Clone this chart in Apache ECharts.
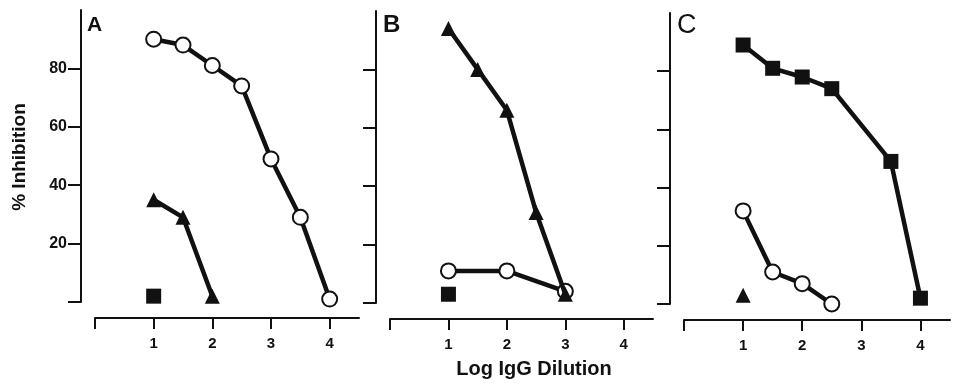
<!DOCTYPE html>
<html>
<head>
<meta charset="utf-8">
<script src="https://cdn.jsdelivr.net/npm/echarts@6/dist/echarts.min.js"></script>
<style>
  html, body { margin: 0; padding: 0; background: #fff; }
  #chart { width: 956px; height: 391px; }
</style>
</head>
<body>
<div id="chart"></div>
<script>
// panel A
var aCircleX = [1, 1.5, 2, 2.5, 3, 3.5, 4]
var aCircleY = [90, 88, 81, 74, 49, 29, 1]
var aTriX = [1, 1.5, 2]
var aTriY = [35, 29, 2]
var aSqX = [1]
var aSqY = [2]
// panel B
var bTriX = [1, 1.5, 2, 2.5, 3]
var bTriY = [94, 80, 66, 31, 3]
var bCircleX = [1, 2, 3]
var bCircleY = [11, 11, 4]
var bSqX = [1]
var bSqY = [3]
// panel C
var cSqX = [1, 1.5, 2, 2.5, 3.5, 4]
var cSqY = [89, 81, 78, 74, 49, 2]
var cCircleX = [1, 1.5, 2, 2.5]
var cCircleY = [32, 11, 7, 0]
var cTriX = [1]
var cTriY = [3]

var xTicks = [0, 1, 2, 3, 4]
var xLabels = [1, 2, 3, 4]
var yTicks = [0, 20, 40, 60, 80]
var yLabels = [20, 40, 60, 80]

var ink = '#111'
var font = '"Liberation Sans", Arial, sans-serif'

function pairs(xs, ys) {
  return xs.map(function (x, i) { return [x, ys[i]] })
}

function xAxisFor(idx) {
  return {
    type: 'value', gridIndex: idx, min: 0, max: 4.5, offset: 16,
    axisLine: { show: true, onZero: false, lineStyle: { color: ink, width: 2 } },
    axisTick: { show: true, customValues: xTicks, length: 11, lineStyle: { color: ink, width: 2 } },
    axisLabel: { customValues: xLabels, margin: 18, fontSize: 15, fontWeight: 'bold', color: ink, fontFamily: font },
    splitLine: { show: false }
  }
}

function yAxisFor(idx, labels) {
  return {
    type: 'value', gridIndex: idx, min: 0, max: 100, offset: 14,
    axisLine: { show: true, onZero: false, lineStyle: { color: ink, width: 2 } },
    axisTick: { show: true, customValues: yTicks, length: 13, lineStyle: { color: ink, width: 2 } },
    axisLabel: { show: labels, customValues: yLabels, margin: 14, fontSize: 16, fontWeight: 'bold', color: ink, fontFamily: font },
    splitLine: { show: false }
  }
}

function circleSeries(idx, xs, ys) {
  return {
    type: 'line', xAxisIndex: idx, yAxisIndex: idx, data: pairs(xs, ys),
    symbol: 'circle', symbolSize: 15, clip: false, z: 3,
    lineStyle: { color: ink, width: 4.5 },
    itemStyle: { color: '#fff', borderColor: ink, borderWidth: 2 }
  }
}

function filledSeries(idx, xs, ys, shape, size) {
  return {
    type: 'line', xAxisIndex: idx, yAxisIndex: idx, data: pairs(xs, ys),
    symbol: shape, symbolSize: size, clip: false, z: 4,
    lineStyle: { color: ink, width: 4.5 },
    itemStyle: { color: ink, borderColor: ink, borderWidth: 0 }
  }
}

var chart = echarts.init(document.getElementById('chart'))
chart.setOption({
  backgroundColor: '#fff',
  animation: false,
  grid: [
    { left: 95, top: 10, width: 264, height: 292 },
    { left: 390, top: 11, width: 263, height: 292 },
    { left: 684, top: 13, width: 266, height: 291 }
  ],
  xAxis: [xAxisFor(0), xAxisFor(1), xAxisFor(2)],
  yAxis: [yAxisFor(0, true), yAxisFor(1, false), yAxisFor(2, false)],
  graphic: [
    { type: 'text', left: 87, top: 15, style: { text: 'A', font: 'bold 21px ' + font, fill: ink } },
    { type: 'text', left: 383, top: 13, style: { text: 'B', font: 'bold 24px ' + font, fill: ink } },
    { type: 'text', left: 677, top: 12, style: { text: 'C', font: '27px ' + font, fill: ink } },
    { type: 'text', x: 20, y: 157, rotation: Math.PI / 2, style: { text: '% Inhibition', font: 'bold 19px ' + font, fill: ink, align: 'center', verticalAlign: 'middle' } },
    { type: 'text', x: 534, y: 369, style: { text: 'Log IgG Dilution', font: 'bold 20px ' + font, fill: ink, align: 'center', verticalAlign: 'middle' } }
  ],
  series: [
    circleSeries(0, aCircleX, aCircleY),
    filledSeries(0, aTriX, aTriY, 'triangle', 15),
    filledSeries(0, aSqX, aSqY, 'rect', 15),
    filledSeries(1, bTriX, bTriY, 'triangle', 15),
    circleSeries(1, bCircleX, bCircleY),
    filledSeries(1, bSqX, bSqY, 'rect', 15),
    filledSeries(2, cSqX, cSqY, 'rect', 15),
    circleSeries(2, cCircleX, cCircleY),
    filledSeries(2, cTriX, cTriY, 'triangle', 15)
  ]
})
</script>
</body>
</html>
